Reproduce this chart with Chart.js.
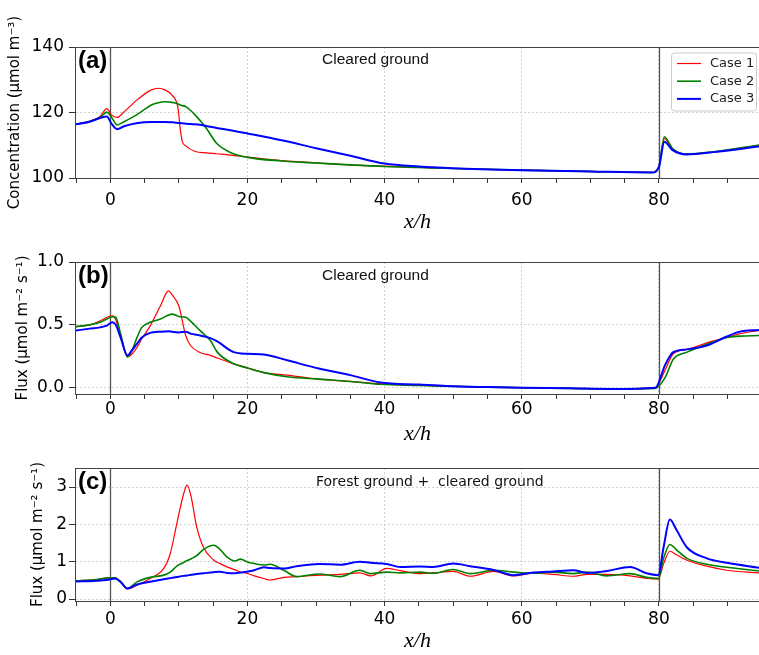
<!DOCTYPE html>
<html>
<head>
<meta charset="utf-8">
<script src="https://cdn.jsdelivr.net/npm/chart.js@4.4.0/dist/chart.umd.min.js"></script>
<style>
html, body { margin: 0; padding: 0; background: #fff; }
#wrap { position: relative; width: 759px; height: 655px; overflow: hidden; }
#wrap canvas { position: absolute; left: 0; }
</style>
</head>
<body>
<div id="wrap">
<canvas id="chartA" width="759" height="240" style="top:0px"></canvas>
<canvas id="chartB" width="759" height="210" style="top:240px"></canvas>
<canvas id="chartC" width="759" height="205" style="top:450px"></canvas>
</div>
<script>
// Series labels
var caseLabels = ['Case 1', 'Case 2', 'Case 3'];

// (a) concentration, x/h positions and values
var xA = [-5, -3, -1.5, -0.5, 0.2, 1, 2, 4, 6, 7, 8, 9, 9.6, 9.9, 10.2, 10.5, 11, 12.4, 14, 15.5, 17.5, 20, 25, 30, 35, 40, 45, 50, 60, 70, 79, 80, 80.8, 82, 84, 88, 94.6];
var concCase1 = [116.4, 117.3, 118.8, 121.2, 119.2, 118.5, 120.2, 124.0, 126.9, 127.4, 126.9, 125.3, 123.5, 121.0, 115.0, 111.2, 109.8, 108.1, 107.7, 107.4, 107.0, 106.4, 105.3, 104.6, 104.0, 103.6, 103.2, 102.9, 102.4, 102.0, 101.7, 103.5, 112.0, 108.8, 107.3, 107.9, 110.0];
var concCase2 = [116.4, 117.3, 118.5, 120.1, 118.5, 116.2, 117.2, 119.5, 122.3, 123.0, 123.3, 123.1, 122.8, 122.6, 122.3, 122.1, 121.8, 119.2, 115.2, 110.6, 107.8, 106.3, 105.2, 104.6, 104.0, 103.5, 103.2, 102.9, 102.4, 102.0, 101.7, 103.5, 112.6, 109.0, 107.3, 108.0, 110.1];
var concCase3 = [116.4, 117.2, 118.3, 118.8, 116.5, 114.9, 115.8, 116.8, 117.1, 117.1, 117.1, 117.0, 116.9, 116.8, 116.8, 116.7, 116.6, 116.4, 115.9, 115.3, 114.6, 113.6, 111.5, 109.1, 106.8, 104.4, 103.5, 103.0, 102.4, 102.0, 101.7, 103.3, 111.1, 108.5, 107.2, 107.9, 109.6];

// (b) flux over cleared ground
var xB = [-5, -3, -1.5, -0.5, 0.3, 0.8, 1.5, 2.5, 3.2, 3.9, 4.6, 5.8, 7.3, 8.5, 9.0, 10.0, 11.0, 11.7, 13.1, 14.6, 15.6, 18, 20, 22.4, 25.8, 30.4, 35, 39.4, 45, 49, 55, 60, 67, 73, 79.5, 80.9, 82.1, 84.1, 87, 89.9, 91.8, 94.6];
var fluxBCase1 = [0.486, 0.50, 0.53, 0.56, 0.572, 0.54, 0.41, 0.245, 0.27, 0.32, 0.39, 0.49, 0.65, 0.77, 0.74, 0.65, 0.415, 0.336, 0.28, 0.257, 0.236, 0.19, 0.157, 0.12, 0.10, 0.068, 0.05, 0.03, 0.02, 0.013, 0.005, 0.0, -0.005, -0.01, 0.0, 0.14, 0.27, 0.305, 0.357, 0.40, 0.43, 0.455];
var fluxBCase2 = [0.486, 0.50, 0.52, 0.546, 0.565, 0.56, 0.43, 0.245, 0.30, 0.40, 0.48, 0.52, 0.546, 0.578, 0.585, 0.567, 0.56, 0.53, 0.454, 0.375, 0.283, 0.19, 0.157, 0.12, 0.087, 0.068, 0.05, 0.027, 0.018, 0.013, 0.005, 0.0, -0.005, -0.01, -0.005, 0.08, 0.226, 0.283, 0.345, 0.40, 0.41, 0.415];
var fluxBCase3 = [0.455, 0.47, 0.48, 0.494, 0.52, 0.50, 0.40, 0.257, 0.30, 0.35, 0.40, 0.436, 0.446, 0.45, 0.445, 0.44, 0.446, 0.43, 0.415, 0.394, 0.368, 0.283, 0.27, 0.265, 0.218, 0.153, 0.10, 0.042, 0.025, 0.013, 0.005, 0.0, -0.005, -0.01, 0.0, 0.18, 0.283, 0.305, 0.336, 0.407, 0.446, 0.46];

// (c) flux, forest ground + cleared ground
var xC = [-5, -2, -0.5, 0.7, 1.5, 2.5, 3.9, 5.8, 7.8, 8.75, 9.7, 10.7, 11.2, 11.8, 12.6, 13.6, 15.1, 16, 17, 18.2, 19, 19.9, 21, 22.4, 23.3, 25.3, 27.2, 30.4, 33.5, 36.4, 38, 40.3, 42.3, 45.2, 47.1, 50, 52.5, 55.9, 58.8, 61.7, 64.6, 67.5, 69.5, 72.4, 75.8, 78.2, 79.9, 80.7, 81.6, 82.6, 84.1, 87, 89.9, 94.6];
var fluxCCase1 = [0.49, 0.52, 0.57, 0.57, 0.46, 0.27, 0.37, 0.55, 0.82, 1.22, 2.02, 2.82, 3.05, 2.73, 1.93, 1.38, 1.04, 0.95, 0.86, 0.78, 0.72, 0.69, 0.62, 0.55, 0.51, 0.58, 0.60, 0.64, 0.66, 0.70, 0.62, 0.82, 0.76, 0.68, 0.70, 0.74, 0.61, 0.74, 0.62, 0.69, 0.66, 0.61, 0.66, 0.66, 0.62, 0.55, 0.53, 0.95, 1.28, 1.18, 1.04, 0.88, 0.77, 0.70];
var fluxCCase2 = [0.49, 0.52, 0.56, 0.57, 0.46, 0.28, 0.46, 0.58, 0.64, 0.72, 0.88, 0.98, 1.03, 1.08, 1.16, 1.33, 1.44, 1.33, 1.13, 1.02, 1.07, 1.0, 0.95, 0.91, 0.93, 0.77, 0.60, 0.67, 0.60, 0.77, 0.68, 0.72, 0.70, 0.72, 0.69, 0.79, 0.68, 0.77, 0.72, 0.69, 0.72, 0.68, 0.72, 0.62, 0.68, 0.58, 0.55, 1.1, 1.46, 1.31, 1.09, 0.93, 0.85, 0.75];
var fluxCCase3 = [0.47, 0.49, 0.51, 0.55, 0.46, 0.285, 0.39, 0.46, 0.53, 0.56, 0.59, 0.62, 0.63, 0.65, 0.67, 0.69, 0.72, 0.73, 0.70, 0.69, 0.71, 0.73, 0.77, 0.85, 0.83, 0.82, 0.88, 0.94, 0.92, 1.0, 0.97, 0.94, 0.86, 0.87, 0.86, 0.95, 0.88, 0.78, 0.64, 0.71, 0.74, 0.77, 0.70, 0.75, 0.86, 0.69, 0.64, 1.4, 2.13, 1.84, 1.38, 1.09, 0.97, 0.84];

// Axis ticks
var xLabelEvery = 20;
var boundaryLines = [0, 80];

var lineColors = ['red', 'green', 'blue'];
var lineWidths = [1.2, 1.6, 2];

function buildDatasets(xs, series) {
    return series.map(function (ys, i) {
        return {
            label: caseLabels[i],
            data: xs.map(function (x, j) { return { x: x, y: ys[j] }; }),
            borderColor: lineColors[i],
            backgroundColor: lineColors[i],
            borderWidth: lineWidths[i],
            pointRadius: 0,
            cubicInterpolationMode: 'monotone',
            order: 3 - i
        };
    });
}

// cadre, lignes verticales, textes et legende
var panelDecor = {
    id: 'panelDecor',
    beforeDatasetsDraw: function (chart) {
        var ctx = chart.ctx, a = chart.chartArea, xs = chart.scales.x;
        ctx.save();
        ctx.strokeStyle = '#555';
        ctx.lineWidth = 1.3;
        boundaryLines.forEach(function (v) {
            var px = Math.round(xs.getPixelForValue(v)) + 0.5;
            ctx.beginPath();
            ctx.moveTo(px, a.top);
            ctx.lineTo(px, a.bottom);
            ctx.stroke();
        });
        ctx.restore();
    },
    afterDraw: function (chart) {
        var ctx = chart.ctx, a = chart.chartArea, o = chart.options.plugins.panelDecor;
        ctx.save();
        ctx.strokeStyle = '#444';
        ctx.lineWidth = 1;
        ctx.strokeRect(Math.round(a.left) - 0.5, Math.round(a.top) + 0.5, Math.round(a.right - a.left) + 2, Math.round(a.bottom - a.top));

        ctx.fillStyle = '#000';
        ctx.textBaseline = 'alphabetic';
        ctx.textAlign = 'left';
        ctx.font = 'bold 24px "Liberation Sans"';
        ctx.fillText(o.tag, a.left + 2, a.top + 20.5);
        ctx.font = o.noteFont;
        ctx.fillStyle = '#111';
        ctx.fillText(o.note, o.noteX, a.top + o.noteDy);

        if (o.legend) {
            var bx = a.right - 88, by = a.top + 5.5, bw = 85, bh = 58;
            ctx.beginPath();
            ctx.roundRect(bx + 0.5, by + 0.5, bw, bh, 3);
            ctx.fillStyle = 'rgba(255,255,255,0.85)';
            ctx.fill();
            ctx.strokeStyle = '#ccc';
            ctx.stroke();
            ctx.font = '13px "DejaVu Sans"';
            ctx.textBaseline = 'middle';
            chart.data.datasets.forEach(function (ds, i) {
                var yy = by + 11 + i * 17.7;
                ctx.strokeStyle = ds.borderColor;
                ctx.lineWidth = ds.borderWidth;
                ctx.beginPath();
                ctx.moveTo(bx + 6, yy);
                ctx.lineTo(bx + 30, yy);
                ctx.stroke();
                ctx.fillStyle = '#222';
                ctx.fillText(ds.label, bx + 39, yy);
            });
        }
        ctx.restore();
    }
};

function makePanel(id, p) {
    return new Chart(document.getElementById(id), {
        type: 'line',
        data: { datasets: buildDatasets(p.xs, p.series) },
        options: {
            responsive: false,
            animation: false,
            layout: { padding: { top: p.padTop, left: p.padLeft, right: 0, bottom: 0 } },
            plugins: {
                legend: { display: false },
                tooltip: { enabled: false },
                panelDecor: { tag: p.tag, note: p.note, noteX: p.noteX, noteDy: p.noteDy, noteFont: p.noteFont, legend: p.legend }
            },
            scales: {
                x: {
                    type: 'linear',
                    min: -5,
                    max: 94.6,
                    afterFit: function (s) { s.height = p.xHeight; },
                    border: { display: false, dash: [2, 2] },
                    grid: {
                        color: function (c) { return c.tick && c.tick.value % xLabelEvery === 0 ? '#d0d0d0' : 'rgba(0,0,0,0)'; },
                        tickColor: '#333',
                        tickLength: 5,
                        tickBorderDash: []
                    },
                    ticks: {
                        stepSize: 5,
                        includeBounds: false,
                        autoSkip: false,
                        maxRotation: 0,
                        padding: p.xTickPad,
                        color: '#000',
                        font: { family: 'DejaVu Sans', size: 17 },
                        callback: function (v) { return v % xLabelEvery === 0 ? String(v) : ''; }
                    },
                    title: {
                        display: true,
                        text: 'x/h',
                        color: '#000',
                        font: { family: 'Liberation Serif', style: 'italic', size: 22, lineHeight: 1.2 },
                        padding: { top: 0, bottom: p.titlePad }
                    }
                },
                y: {
                    type: 'linear',
                    min: p.yMin,
                    max: p.yMax,
                    afterFit: function (s) { s.width = p.yWidth; },
                    border: { display: false, dash: [2, 2] },
                    grid: { color: '#d0d0d0', tickColor: '#333', tickLength: 7, tickBorderDash: [] },
                    ticks: {
                        stepSize: p.yStep,
                        includeBounds: false,
                        padding: p.yTickPad,
                        color: '#000',
                        font: { family: 'DejaVu Sans', size: 17 },
                        callback: p.yFormat
                    },
                    title: {
                        display: true,
                        text: p.yTitle,
                        color: '#000',
                        font: { family: 'DejaVu Sans', size: 15, lineHeight: 1.2 },
                        padding: { top: 0, bottom: 0 }
                    }
                }
            }
        },
        plugins: [panelDecor]
    });
}

makePanel('chartA', {
    xs: xA, series: [concCase1, concCase2, concCase3],
    padTop: 47, padLeft: 6, yWidth: 70, xHeight: 62, titlePad: 5, xTickPad: 7, yTickPad: 5,
    yMin: 100, yMax: 140, yStep: 20, yFormat: function (v) { return String(v); },
    yTitle: 'Concentration (μmol m⁻³)',
    tag: '(a)', note: 'Cleared ground', noteX: 322, noteDy: 17, noteFont: '15.5px "Liberation Sans"', legend: true
});

makePanel('chartB', {
    xs: xB, series: [fluxBCase1, fluxBCase2, fluxBCase3],
    padTop: 22, padLeft: 14, yWidth: 62, xHeight: 56, titlePad: 3, xTickPad: 0, yTickPad: 5,
    yMin: -0.05, yMax: 1.0, yStep: 0.5, yFormat: function (v) { return v.toFixed(1); },
    yTitle: 'Flux (μmol m⁻² s⁻¹)',
    tag: '(b)', note: 'Cleared ground', noteX: 322, noteDy: 18, noteFont: '15.5px "Liberation Sans"', legend: false
});

makePanel('chartC', {
    xs: xC, series: [fluxCCase1, fluxCCase2, fluxCCase3],
    padTop: 18, padLeft: 29, yWidth: 47, xHeight: 54, titlePad: 1, xTickPad: 3, yTickPad: 2,
    yMin: -0.053, yMax: 3.51, yStep: 1, yFormat: function (v) { return String(v); },
    yTitle: 'Flux (μmol m⁻² s⁻¹)',
    tag: '(c)', note: 'Forest ground +  cleared ground', noteX: 316, noteDy: 18.3, noteFont: '14px "DejaVu Sans"', legend: false
});
</script>
</body>
</html>
